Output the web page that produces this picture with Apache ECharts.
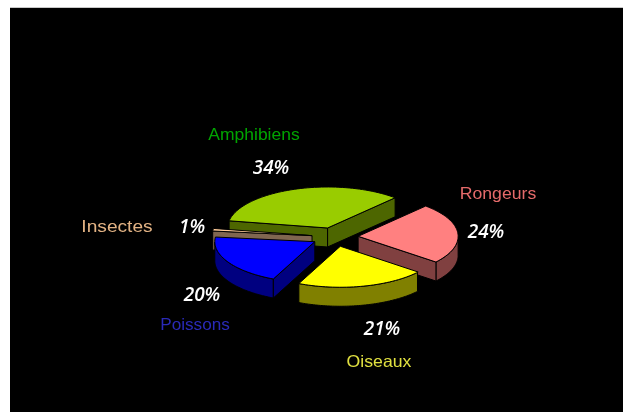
<!DOCTYPE html>
<html><head><meta charset="utf-8">
<style>html,body{margin:0;padding:0;background:#fff}#c{width:623px;height:412px}</style>
<script src="https://cdn.jsdelivr.net/npm/echarts@6/dist/echarts.min.js"></script>
</head><body><div id="c"></div>
<script>
const categories = ['Amphibiens','Insectes','Poissons','Oiseaux','Rongeurs'];
const shares = [34,1,20,21,24];

const topColors = ['#99CC00','#FFCC99','#0000FF','#FFFF00','#FF8080'];
const sideColors = ['#4D6600','#806650','#000080','#808000','#804040'];
const nameColors = ['#00A400','#E3B384','#2A2AB8','#E0E040','#E56A6A'];
const namePos = [[254,135],[117,227],[195,325],[379,362],[498,194]];
const nameStretch = [1.06,1.16,1.04,1.07,1.07];
const pctPos = [[271,169],[192,228],[202,296],[382,330],[486,233]];
const startAngle = 47.5, explode = 0.232, depth = 19;

const total = shares.reduce((a,b)=>a+b,0);
const rad = d => d*Math.PI/180;

function renderItem(params, api){
  const i = params.dataIndex;
  let a = startAngle;
  for(let k=0;k<i;k++) a += shares[k]/total*360;
  const b = a + shares[i]/total*360, mid = (a+b)/2;
  const ox = explode*Math.cos(rad(mid)), oy = explode*Math.sin(rad(mid));
  const P = d => api.coord([ox+Math.cos(rad(d)), oy+Math.sin(rad(d))]);
  const tip = api.coord([ox,oy]);
  const down = p => [p[0],p[1]+depth];
  const style = fill => ({fill, stroke:'#000', lineWidth:1});
  const z = Math.round(tip[1]);
  const kids = [];
  const poly = (points, fill) => kids.push({type:'polygon', z2:z, shape:{points}, style:style(fill), silent:true});
  let rim = [];
  for(let d=a; d<=b+0.001; d+=1){
    const s = Math.sin(rad(d));
    if(s<=0.001) rim.push(P(d));
  }
  if(rim.length>1) poly(rim.concat(rim.map(down).reverse()), sideColors[i]);
  if(Math.cos(rad(a))>0){const e=P(a); poly([tip,e,down(e),down(tip)], sideColors[i]);}
  if(Math.cos(rad(b))<0){const e=P(b); poly([tip,e,down(e),down(tip)], sideColors[i]);}
  const top=[tip];
  for(let d=a; d<b; d+=2) top.push(P(d));
  top.push(P(b));
  poly(top, topColors[i]);
  kids.push({type:'text', z2:1000, silent:true, x:namePos[i][0], y:namePos[i][1], scaleX:nameStretch[i], style:{text:categories[i], x:0, y:0, align:'center', verticalAlign:'middle', fill:nameColors[i], font:'16.5px "Liberation Sans"'}});
  kids.push({type:'text', z2:1000, silent:true, style:{text:api.value(1)+'%', x:pctPos[i][0], y:pctPos[i][1], align:'center', verticalAlign:'middle', fill:'#fff', font:'italic 600 19px "Open Sans"'}});
  return {type:'group', children:kids};
}

const chart = echarts.init(document.getElementById('c'), null, {renderer:'canvas'});
chart.setOption({
  animation:false,
  backgroundColor:'#fff',
  graphic:[
    {type:'rect', z:-10, silent:true, shape:{x:10,y:7,width:613,height:1}, style:{fill:'#c8c8c8'}},
    {type:'rect', z:-10, silent:true, shape:{x:10,y:8,width:613,height:404}, style:{fill:'#000'}}
  ],
  grid:{left:185,top:175.5,width:300,height:123},
  xAxis:{type:'value',min:-1.5,max:1.5,show:false},
  yAxis:{type:'value',min:-1.5,max:1.5,show:false},
  series:[{type:'custom', renderItem, clip:false, data:shares.map((v,i)=>[i,v]), encode:{x:0,y:1}}]
});
</script></body></html>
